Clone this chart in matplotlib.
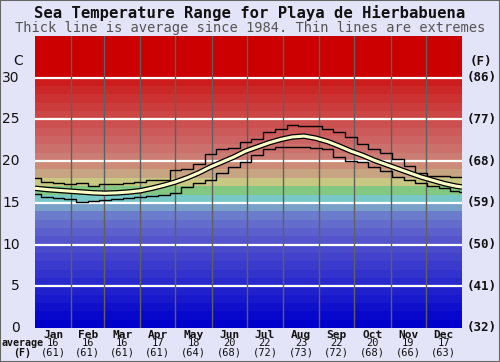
import matplotlib
matplotlib.use('Agg')
import matplotlib.pyplot as plt
from matplotlib.patches import Rectangle

months = ['Jan', 'Feb', 'Mar', 'Apr', 'May', 'Jun', 'Jul', 'Aug', 'Sep', 'Oct', 'Nov', 'Dec']
month_avg_c = [16, 16, 16, 17, 18, 20, 22, 23, 22, 20, 19, 17]
month_avg_f = [61, 61, 61, 61, 64, 68, 72, 73, 72, 68, 66, 63]
month_start_day = [0, 31, 59, 90, 120, 151, 181, 212, 243, 273, 304, 334, 365]

days = [0, 10, 20, 30, 40, 50, 60, 70, 80, 90, 100, 110, 120, 130, 140, 150, 160, 170,
        180, 190, 200, 210, 220, 230, 240, 250, 260, 270, 280, 290, 300, 310, 320, 330,
        340, 350, 360, 365]
avg_temp = [16.75, 16.6, 16.5, 16.4, 16.3, 16.2, 16.15, 16.2, 16.3, 16.45, 16.75, 17.1,
            17.5, 18.0, 18.6, 19.3, 19.9, 20.5, 21.2, 21.7, 22.2, 22.6, 22.9, 23.0,
            22.75, 22.35, 21.8, 21.2, 20.7, 20.1, 19.6, 19.1, 18.6, 18.1, 17.7, 17.3,
            17.0, 16.9]
max_temp = [18.0, 17.45, 17.35, 17.3, 17.4, 17.05, 17.3, 17.3, 17.35, 17.55, 17.75, 17.75,
            18.95, 19.0, 19.6, 20.9, 21.5, 21.6, 22.3, 22.6, 23.5, 23.8, 24.3, 24.25,
            24.2, 23.9, 23.5, 22.9, 22.0, 21.5, 21.0, 20.3, 19.4, 18.6, 18.2, 18.2,
            18.1, 18.1]
min_temp = [16.1, 15.75, 15.55, 15.45, 15.05, 15.2, 15.4, 15.5, 15.6, 15.75, 15.85, 15.95,
            16.2, 16.95, 17.4, 17.75, 18.6, 19.3, 19.95, 20.75, 21.4, 21.7, 21.75, 21.65,
            21.6, 21.45, 20.5, 20.05, 19.9, 19.3, 18.8, 18.1, 17.7, 17.35, 17.0, 16.75,
            16.45, 16.35]
c_ticks = [0, 5, 10, 15, 20, 25, 30]
f_ticks = [32, 41, 50, 59, 68, 77, 86]

band_rgb = [
    (0, 0, 204), (8, 8, 204), (16, 16, 204), (24, 24, 204), (32, 32, 204),
    (42, 42, 204), (50, 50, 204), (58, 58, 204), (66, 66, 204), (74, 74, 204),
    (84, 84, 204), (92, 96, 204), (100, 108, 204), (108, 124, 204), (120, 160, 200),
    (120, 200, 200), (130, 200, 130), (200, 200, 130), (200, 165, 130), (204, 140, 120),
    (204, 125, 115), (204, 112, 108), (204, 100, 100), (204, 90, 90), (204, 80, 80),
    (204, 70, 70), (204, 60, 60), (204, 50, 50), (204, 40, 40), (204, 28, 28),
]

bg = '#e4e4f8'
W, H = 500, 362
fig = plt.figure(figsize=(5, 3.62), dpi=100, facecolor=bg)
ax = fig.add_axes([35 / W, 1 - 328 / H, 427 / W, 292 / H])
ax.set_xlim(0, 365)
ax.set_ylim(0, 35)
for sp in ax.spines.values():
    sp.set_visible(False)
ax.set_xticks([])
ax.set_yticks([])

for i, c in enumerate(band_rgb):
    ax.axhspan(i, i + 1, color=tuple(v / 255 for v in c), lw=0, zorder=0)
ax.axhspan(30, 35, color=(204 / 255, 0, 0), lw=0, zorder=0)

for t in c_ticks[1:]:
    ax.axhline(t, color='white', lw=1.6, zorder=1)
for d in month_start_day[1:-1]:
    ax.axvline(d, color='#606060', lw=1, zorder=1)

ax.plot(days, max_temp, color='black', lw=1, drawstyle='steps-mid', zorder=3)
ax.plot(days, min_temp, color='black', lw=1, drawstyle='steps-mid', zorder=3)
ax.plot(days, avg_temp, color='black', lw=4.0, solid_capstyle='butt', zorder=4)
ax.plot(days, avg_temp, color='#ffffc8', lw=2.2, solid_capstyle='butt', zorder=5)

mono = 'DejaVu Sans Mono'
ink = '#111111'
fig.text(0.5, 1 - 13 / H, 'Sea Temperature Range for Playa de Hierbabuena',
         ha='center', va='center', family=mono, weight='bold', fontsize=11.2, color=ink)
fig.text(0.5, 1 - 28 / H, 'Thick line is average since 1984. Thin lines are extremes',
         ha='center', va='center', family=mono, fontsize=9.9, color='#555555')

for c, f in zip(c_ticks, f_ticks):
    ax.text(-13, c, str(c), ha='right', va='center', fontsize=10,
            family='DejaVu Sans', color=ink, clip_on=False)
    ax.text(369, c, '(%d)' % f, ha='left', va='center', fontsize=9,
            family=mono, weight='bold', color=ink, clip_on=False)
fig.text(23 / W, 1 - 61 / H, 'C', ha='right', va='center', fontsize=10, family='DejaVu Sans',
         color=ink)
fig.text(470 / W, 1 - 61 / H, '(F)', ha='left', va='center', fontsize=9, family=mono,
         weight='bold', color=ink)

for i, m in enumerate(months):
    xc = (month_start_day[i] + month_start_day[i + 1]) / 2
    xf = (35 + xc / 365 * 427) / W
    fig.text(xf, 1 - 334.5 / H, m, ha='center', va='center', fontsize=8, family=mono,
             weight='bold', color=ink)
    fig.text(xf, 1 - 343.5 / H, str(month_avg_c[i]), ha='center', va='center', fontsize=7.5,
             family=mono, color=ink)
    fig.text(xf, 1 - 352.5 / H, '(%d)' % month_avg_f[i], ha='center', va='center',
             fontsize=7.5, family=mono, color=ink)
fig.text(22 / W, 1 - 343.5 / H, 'average', ha='center', va='center', fontsize=7.2,
         family=mono, weight='bold', color=ink)
fig.text(22 / W, 1 - 352.5 / H, '(F)', ha='center', va='center', fontsize=7.2,
         family=mono, weight='bold', color=ink)

fig.patches.append(Rectangle((0, 0), 1, 1, transform=fig.transFigure, fill=False,
                             edgecolor='#666666', lw=1.5))
fig.savefig('out.png', dpi=100, facecolor=bg)
